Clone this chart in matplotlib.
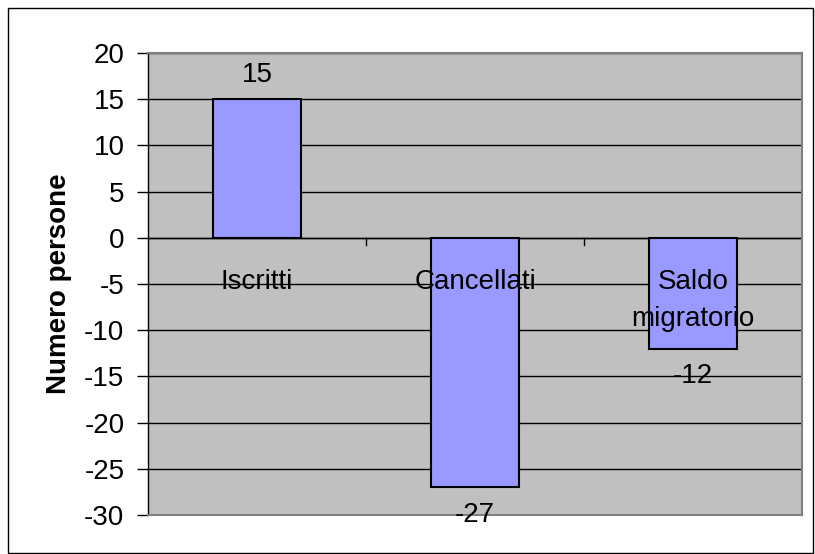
import matplotlib
matplotlib.use('Agg')
import matplotlib.pyplot as plt
import numpy as np

categorie = ['Iscritti', 'Cancellati', 'Saldo\nmigratorio']
valori = [15, -27, -12]
y_ticks = [20, 15, 10, 5, 0, -5, -10, -15, -20, -25, -30]

plt.rcParams['font.family'] = ['Liberation Sans', 'DejaVu Sans']

W, H = 815, 554
fig = plt.figure(figsize=(W / 100, H / 100), dpi=100)
# outer chart border
fig.patches.append(plt.Rectangle((8 / W, 1 / H), (W - 10) / W, (H - 9) / H,
                                 transform=fig.transFigure, fill=False,
                                 edgecolor='black', linewidth=1))

ax = fig.add_axes([148 / W, 1 - 515 / H, (802 - 148) / W, (515 - 53) / H])
ax.set_facecolor('#c0c0c0')
x = np.arange(len(categorie))
ax.bar(x, valori, width=0.4, color='#9999ff', edgecolor='black', linewidth=1.5, zorder=3)

ax.set_xlim(-0.5, len(categorie) - 0.5)
ax.set_ylim(-30, 20)
ax.set_yticks(y_ticks)
ax.set_yticklabels([str(v) for v in y_ticks])
ax.yaxis.grid(True, color='black', linewidth=1)
ax.set_axisbelow(True)
ax.tick_params(axis='y', labelsize=20, length=8, width=1, direction='out', pad=9)
ax.set_xticks([])

for s in ['top', 'right', 'bottom']:
    ax.spines[s].set_color('#808080')
    ax.spines[s].set_linewidth(1.5)
ax.spines['left'].set_color('black')
ax.spines['left'].set_linewidth(1)

# category axis at zero
ax.axhline(0, color='black', linewidth=1, zorder=2)
for b in [0.5, 1.5]:
    ax.plot([b, b], [0, -0.8], color='black', linewidth=1, zorder=2)

for xi, lab in zip(x, categorie):
    ax.text(xi, -3.4, lab, ha='center', va='top', fontsize=20, zorder=4,
            linespacing=1.55)

for xi, v in zip(x, valori):
    if v >= 0:
        ax.text(xi, v + 1.2, str(v), ha='center', va='bottom', fontsize=20, zorder=4)
    else:
        ax.text(xi, v - 1.6, str(v), ha='center', va='top', fontsize=20, zorder=4)

ax.set_ylabel('Numero persone', fontsize=20, fontweight='bold', labelpad=9)

fig.savefig('out.png', dpi=100)
